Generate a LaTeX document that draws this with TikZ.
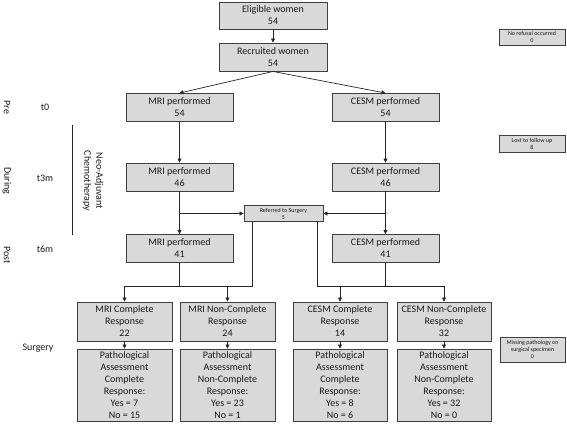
\documentclass[tikz,border=0pt]{standalone}
\usepackage{fontspec}
\setmainfont{Carlito}
\usetikzlibrary{arrows.meta}
\definecolor{boxfill}{HTML}{D9D9D9}
\definecolor{boxline}{HTML}{3F3F3F}
\definecolor{txt}{HTML}{1A1A1A}
\tikzset{
  box/.style={draw=boxline, fill=boxfill, line width=0.9pt, align=center, inner sep=0pt,
    text=txt, font=\fontsize{10}{12}\selectfont},
  smallbox/.style={draw=boxline, fill=boxfill, line width=0.8pt, align=center, inner sep=0pt,
    text=txt, font=\fontsize{6}{7}\selectfont},
  conn/.style={draw=black!85, line width=0.7pt},
  arr/.style={conn, -{Triangle[length=4pt,width=4pt]}},
  lbl/.style={text=txt, font=\fontsize{10}{12}\selectfont, inner sep=0pt, align=center},
}
\begin{document}
\begin{tikzpicture}[x=1pt,y=-1pt]
\useasboundingbox (0,0) rectangle (567,424);

% top
\node[box, minimum width=108, minimum height=27] (elig) at (273,15.5) {Eligible women\\54};
\node[box, minimum width=108, minimum height=28] (recr) at (273,57) {Recruited women\\54};

% t0
\node[box, minimum width=107, minimum height=28] (mri0) at (179.5,107.5) {MRI performed\\54};
\node[box, minimum width=107, minimum height=28] (cesm0) at (385.5,107.5) {CESM performed\\54};
% t3m
\node[box, minimum width=107, minimum height=28] (mri3) at (179.5,177) {MRI performed\\46};
\node[box, minimum width=107, minimum height=28] (cesm3) at (385.5,177) {CESM performed\\46};
% referred
\node[smallbox, minimum width=79, minimum height=16] (ref) at (283.5,213.5) {Referred to Surgery\\5};
% t6m
\node[box, minimum width=107, minimum height=28] (mri6) at (179.5,248.5) {MRI performed\\41};
\node[box, minimum width=107, minimum height=28] (cesm6) at (385.5,248.5) {CESM performed\\41};

% responses
\node[box, minimum width=95, minimum height=39] (mriC) at (124.5,321.5) {MRI Complete\\Response\\22};
\node[box, minimum width=95, minimum height=39] (mriN) at (227.5,321.5) {MRI Non-Complete\\Response\\24};
\node[box, minimum width=94, minimum height=39] (cesmC) at (340,321.5) {CESM Complete\\Response\\14};
\node[box, minimum width=94, minimum height=39] (cesmN) at (444,321.5) {CESM Non-Complete\\Response\\32};

% pathology
\node[box, minimum width=95, minimum height=72] (mriCP) at (124.5,385) {Pathological\\Assessment\\Complete\\Response:\\Yes = 7\\No = 15};
\node[box, minimum width=95, minimum height=72] (mriNP) at (227.5,385) {Pathological\\Assessment\\Non-Complete\\Response:\\Yes = 23\\No = 1};
\node[box, minimum width=94, minimum height=72] (cesmCP) at (340,385) {Pathological\\Assessment\\Complete\\Response:\\Yes = 8\\No = 6};
\node[box, minimum width=94, minimum height=72] (cesmNP) at (444,385) {Pathological\\Assessment\\Non-Complete\\Response:\\Yes = 32\\No = 0};

% side boxes
\node[smallbox, minimum width=66, minimum height=16] (norefusal) at (532,37) {No refusal occurred\\0};
\node[smallbox, minimum width=66, minimum height=17] (lost) at (532,143.5) {Lost to follow up\\8};
\node[smallbox, minimum width=65, minimum height=25] (missing) at (532.5,349.5) {Missing pathology on\\surgical specimen\\0};

% left labels
\node[lbl, rotate=-90] (pre) at (7,107.5) {Pre};
\node[lbl] (t0) at (45,107.5) {t0};
\node[lbl, rotate=-90] (during) at (7,181) {During};
\node[lbl] (t3m) at (45,178) {t3m};
\node[lbl, rotate=-90] (post) at (7,255) {Post};
\node[lbl] (t6m) at (45,249) {t6m};
\node[lbl] (surgery) at (38,348) {Surgery};
\node[lbl, rotate=-90] (chemo) at (93,181) {Neo-Adjuvant\\Chemotherapy};
\coordinate (chtop) at (72,125);
\coordinate (chbot) at (72,235);
\draw[conn] (chtop) -- (chbot);

% connectors
\draw[arr] (elig) -- (recr);
\draw[arr] (recr.south) -- (mri0.north);
\draw[arr] (recr.south) -- (cesm0.north);
\draw[arr] (mri0) -- (mri3);
\draw[arr] (cesm0) -- (cesm3);
\draw[arr] (mri3) -- (mri6);
\draw[arr] (cesm3) -- (cesm6);
\draw[arr] (mri3.south |- ref.west) -- (ref.west);
\draw[arr] (cesm3.south |- ref.east) -- (ref.east);

\coordinate (jl) at (179.5,286);
\coordinate (jr) at (385.5,286);
\coordinate (refL) at (252,221.5);
\coordinate (refR) at (317,221.5);
\draw[conn] (mri6.south) -- (jl);
\draw[conn] (refL) |- (jl);
\draw[arr] (jl) -| (mriC.north);
\draw[arr] (jl) -| (mriN.north);
\draw[conn] (cesm6.south) -- (jr);
\draw[conn] (refR) |- (jr);
\draw[arr] (jr) -| (cesmC.north);
\draw[arr] (jr) -| (cesmN.north);

\draw[arr] (mriC) -- (mriCP);
\draw[arr] (mriN) -- (mriNP);
\draw[arr] (cesmC) -- (cesmCP);
\draw[arr] (cesmN) -- (cesmNP);
\end{tikzpicture}
\end{document}
